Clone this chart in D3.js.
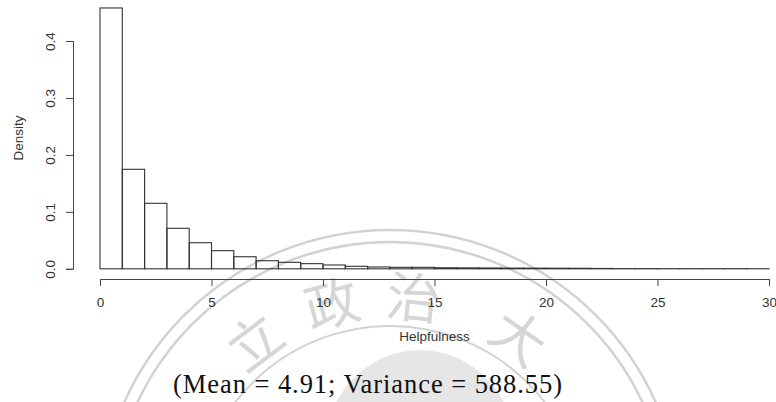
<!DOCTYPE html>
<html>
<head>
<meta charset="utf-8">
<script src="https://cdn.jsdelivr.net/npm/d3@7"></script>
<style>
  body { margin: 0; background: #fff; }
  svg { display: block; }
  .axis text { font-family: "Liberation Sans", Arial, sans-serif; font-size: 13.5px; fill: #333; }
  .axis path, .axis line { stroke: #444; stroke-width: 1; }
  .lab { font-family: "Liberation Sans", Arial, sans-serif; font-size: 13.5px; fill: #333; }
  .stat { font-family: "Liberation Serif", "Times New Roman", serif; font-size: 26.5px; fill: #111; }
  .wm { fill: none; stroke: #d2d2d2; }
  .wmchar { font-family: "Noto Sans CJK TC", sans-serif; font-size: 54px; fill: #d6d6d6; }
</style>
</head>
<body>
<script>
// set up SVG
var w = 776;
var h = 402;

// histogram bins (width 1) and density
var binStart = [0, 1, 2, 3, 4, 5, 6, 7, 8, 9, 10, 11, 12, 13, 14,
                15, 16, 17, 18, 19, 20, 21, 22, 23, 24, 25, 26, 27, 28, 29];
var density  = [0.458, 0.1747, 0.115, 0.0711, 0.0458, 0.0318, 0.0212, 0.0142,
                0.0114, 0.009, 0.0067, 0.0044, 0.0032, 0.0026, 0.0026,
                0.0018, 0.0016, 0.0014, 0.0012, 0.0011, 0.001, 0.0009, 0.0006,
                0.0003, 0.0003, 0.0002, 0.0002, 0.0002, 0.0002, 0.0001];

var xTicks = [0, 5, 10, 15, 20, 25, 30];
var yTicks = [0, 0.1, 0.2, 0.3, 0.4];
var xTitle = "Helpfulness";
var yTitle = "Density";
var statText = "(Mean = 4.91; Variance = 588.55)";

// watermark characters of the seal
var sealChars = ["立", "政", "治", "大"];
var sealAngles = [-37, -15, 6, 35];

// plot box
var x0 = 100, x1 = 769;
var yBase = 268.8, yTop = 41;

var scaleX = d3.scaleLinear().domain([0, 30]).range([x0, x1]);
var scaleY = d3.scaleLinear().domain([0, 0.4]).range([yBase, yTop]);

var svg = d3.select("body")
            .append("svg")
            .attr("width", w)
            .attr("height", h);

// watermark (light, sits under the marks)
var wm = svg.append("g");
var cx = 390, cy = 521;
wm.append("ellipse")
  .attr("cx", 420).attr("cy", 452)
  .attr("rx", 96).attr("ry", 102)
  .attr("fill", "#e6e6e6");
[291, 279].forEach(function(r) {
    wm.append("circle").attr("class", "wm")
      .attr("cx", cx).attr("cy", cy).attr("r", r)
      .attr("stroke-width", 2.5);
});
wm.append("circle").attr("class", "wm")
  .attr("cx", cx).attr("cy", cy).attr("r", 195)
  .attr("stroke-width", 2);
for (var i = 0; i < sealChars.length; i++) {
    var a = sealAngles[i] * Math.PI / 180;
    var px = cx + 228 * Math.sin(a);
    var py = cy - 228 * Math.cos(a);
    wm.append("text")
      .attr("class", "wmchar")
      .attr("text-anchor", "middle")
      .attr("dominant-baseline", "central")
      .attr("transform", "translate(" + px + "," + py + ") rotate(" + sealAngles[i] + ")")
      .text(sealChars[i]);
}

// bars
svg.selectAll("rect.bar")
   .data(binStart)
   .enter()
   .append("rect")
   .attr("class", "bar")
   .attr("x", function(d) { return scaleX(d); })
   .attr("y", function(d, i) { return scaleY(density[i]); })
   .attr("width", function(d) { return scaleX(d + 1) - scaleX(d); })
   .attr("height", function(d, i) { return yBase - scaleY(density[i]); })
   .attr("fill", "none")
   .attr("stroke", "#333")
   .attr("stroke-width", 1.1);

// axes
var axisX = d3.axisBottom(scaleX)
              .tickValues(xTicks)
              .tickSizeOuter(0)
              .tickSize(7)
              .tickPadding(11)
              .tickFormat(d3.format("d"));
svg.append("g")
   .attr("class", "axis")
   .attr("transform", "translate(0," + 279 + ")")
   .call(axisX);

var axisY = d3.axisLeft(scaleY)
              .tickValues(yTicks)
              .tickSizeOuter(0)
              .tickSize(7)
              .tickFormat(d3.format(".1f"));
var gy = svg.append("g")
   .attr("class", "axis")
   .attr("transform", "translate(" + 73 + ",0)")
   .call(axisY);
gy.selectAll(".tick text")
  .attr("x", null).attr("dy", null)
  .attr("text-anchor", "middle")
  .attr("transform", "translate(-23,0) rotate(-90)")
  .attr("dy", "0.35em");

// titles
svg.append("text")
   .attr("class", "lab")
   .attr("text-anchor", "middle")
   .attr("x", (x0 + x1) / 2)
   .attr("y", 341)
   .text(xTitle);
svg.append("text")
   .attr("class", "lab")
   .attr("text-anchor", "middle")
   .attr("transform", "translate(23," + 138 + ") rotate(-90)")
   .text(yTitle);

// summary line under the chart
svg.append("text")
   .attr("class", "stat")
   .attr("x", 173)
   .attr("y", 393)
   .attr("textLength", 389)
   .attr("lengthAdjust", "spacing")
   .text(statText);
</script>
</body>
</html>
